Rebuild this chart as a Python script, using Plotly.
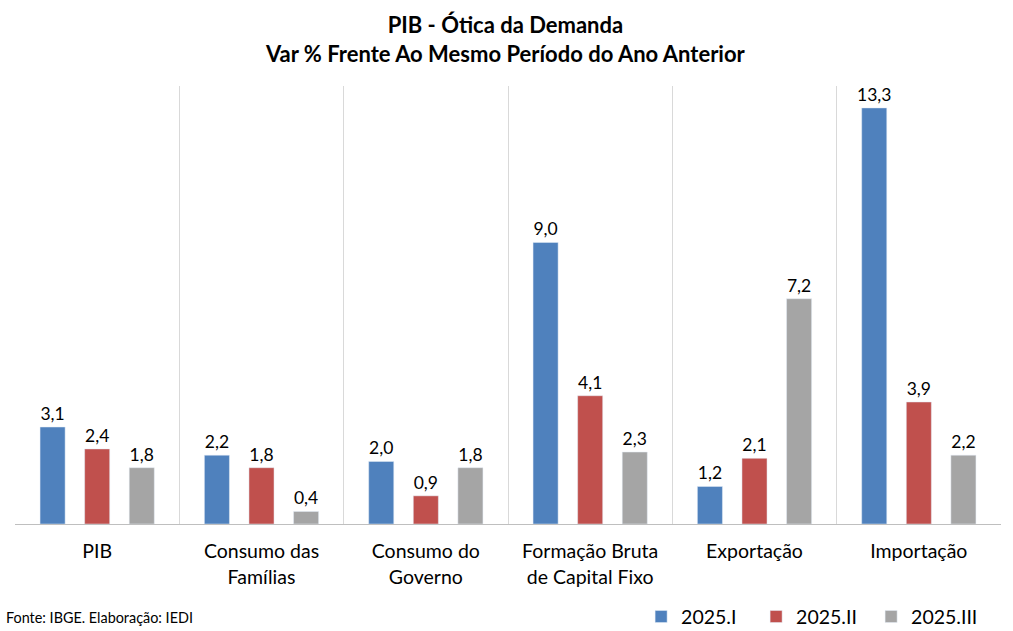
import plotly.graph_objects as go

categories = ["PIB", "Consumo das<br>Famílias", "Consumo do<br>Governo",
              "Formação Bruta<br>de Capital Fixo", "Exportação", "Importação"]
series_names = ["2025.I", "2025.II", "2025.III"]
v_2025_I = [3.1, 2.2, 2.0, 9.0, 1.2, 13.3]
v_2025_II = [2.4, 1.8, 0.9, 4.1, 2.1, 3.9]
v_2025_III = [1.8, 0.4, 1.8, 2.3, 7.2, 2.2]
colors = ["#4F81BD", "#C0504D", "#A5A5A5"]

FONT = "Lato, Liberation Sans, sans-serif"

fig = go.Figure()
for name, vals, col in zip(series_names, [v_2025_I, v_2025_II, v_2025_III], colors):
    fig.add_trace(go.Bar(
        x=categories, y=vals, name=name, marker_color=col,
        texttemplate="%{y:.1f}", textposition="outside", constraintext="none",
        textfont=dict(size=17.5, color="#000000", family=FONT),
        cliponaxis=False,
    ))

fig.update_layout(
    width=1013, height=631,
    separators=",.",
    barmode="group", bargap=0.186, bargroupgap=0.438,
    plot_bgcolor="white", paper_bgcolor="white",
    font=dict(family=FONT, color="#000000"),
    margin=dict(l=15, r=12, t=86, b=107, autoexpand=False),
    legend=dict(orientation="h", x=0.635, xanchor="left", y=-0.212, yanchor="middle",
                font=dict(size=19.5, family=FONT), entrywidth=70, itemwidth=30,
                traceorder="normal", bgcolor="rgba(0,0,0,0)"),
    xaxis=dict(tickson="boundaries", showgrid=True, gridcolor="#D9D9D9", gridwidth=1,
               ticks="", showline=True, linecolor="#BFBFBF", linewidth=1,
               ticklabelstandoff=10,
               tickfont=dict(size=19.5, family=FONT, color="#000000"), fixedrange=True),
    yaxis=dict(range=[0, 14], showgrid=False, showticklabels=False, zeroline=False,
               showline=False, fixedrange=True),
)

fig.add_annotation(text="<b>PIB - Ótica da Demanda<br>Var % Frente Ao Mesmo Período do Ano Anterior</b>",
                   xref="paper", yref="paper", x=0.497, xanchor="center",
                   y=1.0 + 47 / 438, yanchor="middle", showarrow=False,
                   font=dict(size=22, family=FONT, color="#000000"))

fig.add_annotation(text="Fonte: IBGE. Elaboração: IEDI", xref="paper", yref="paper",
                   x=-0.011, xanchor="left", y=-0.213, yanchor="middle", showarrow=False,
                   font=dict(size=14.4, family=FONT, color="#000000"))

fig.write_html("out.html", config={"displayModeBar": False},
               post_script="document.body.style.margin='0';")
